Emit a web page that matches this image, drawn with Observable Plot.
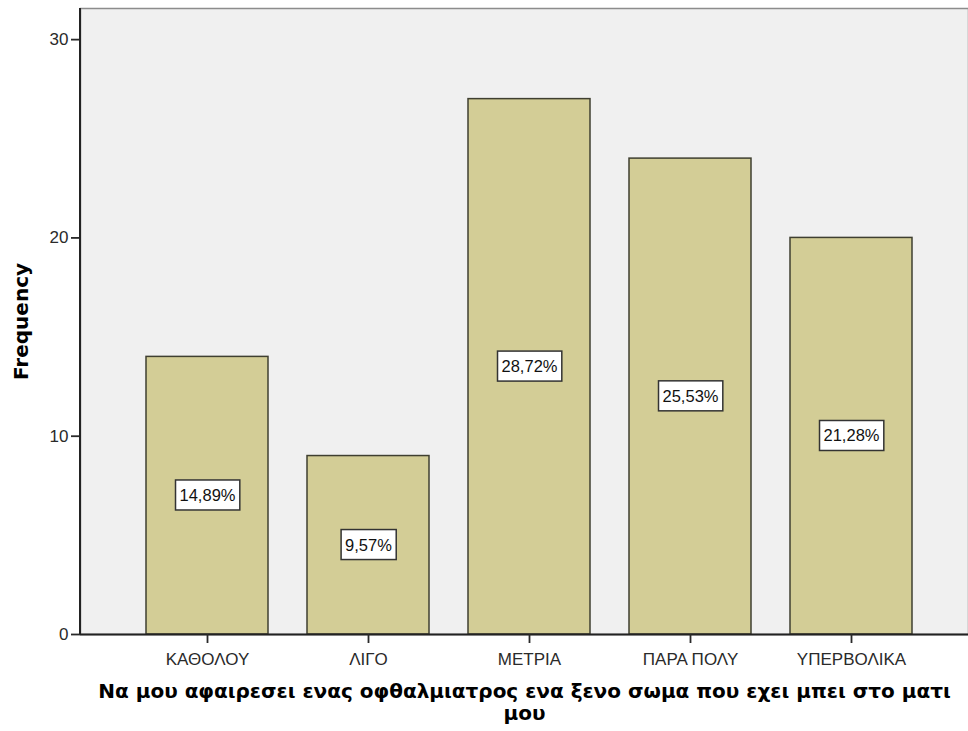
<!DOCTYPE html>
<html>
<head>
<meta charset="utf-8">
<script src="https://cdn.jsdelivr.net/npm/d3@7"></script>
<script src="https://cdn.jsdelivr.net/npm/@observablehq/plot@0.6"></script>
<style>
  html, body { margin: 0; padding: 0; background: #ffffff; }
  #chart svg { display: block; }
</style>
</head>
<body>
<div id="chart"></div>
<script>
const categories = ["ΚΑΘΟΛΟΥ", "ΛΙΓΟ", "ΜΕΤΡΙΑ", "ΠΑΡΑ ΠΟΛΥ", "ΥΠΕΡΒΟΛΙΚΑ"];
const frequencies = [14, 9, 27, 24, 20];
const percentLabels = ["14,89%", "9,57%", "28,72%", "25,53%", "21,28%"];
const yTicks = [0, 10, 20, 30];
const xTitle = "Να μου αφαιρεσει ενας οφθαλμιατρος ενα ξενο σωμα που εχει μπει στο ματι\nμου";
const yTitle = "Frequency";

const data = categories.map((c, i) => ({category: c, value: frequencies[i], label: percentLabels[i]}));

const W = 968, H = 731;
const mL = 80, mT = 8, mB = 97;

const chart = Plot.plot({
  width: W,
  height: H,
  marginLeft: mL,
  marginRight: 0,
  marginTop: mT,
  marginBottom: mB,
  style: {fontFamily: "'Liberation Sans', Arial, sans-serif", background: "#ffffff", overflow: "visible"},
  x: {domain: categories, range: [mL, 977], paddingInner: 0.245, paddingOuter: 0.396, label: null},
  y: {domain: [0, 31.57], label: null},
  marks: [
    Plot.frame({fill: "#f0f0f0", stroke: "#8c8c8c", strokeWidth: 1.5}),
    Plot.barY(data, {x: "category", y: "value", fill: "#d3cd96", stroke: "#3f3f30", strokeWidth: 1.5}),
    Plot.ruleY([0], {stroke: "#222", strokeWidth: 2}),
    Plot.axisY({ticks: yTicks, tickSize: 9, tickPadding: 3, fontSize: 17, color: "#2a2a2a", label: null, strokeWidth: 1.8}),
    Plot.axisX({tickSize: 9, tickPadding: 9, fontSize: 17, color: "#2a2a2a", label: null, strokeWidth: 1.8}),
    Plot.text(data, {
      x: "category", y: d => d.value / 2, text: "label",
      fontSize: 16.5, fill: "#111", className: "pct-labels"
    }),
    Plot.text([yTitle], {
      frameAnchor: "left", textAnchor: "middle", dx: -59, rotate: -90, text: d => d,
      fontSize: 20, fontWeight: "bold", fill: "#000",
      fontFamily: "'DejaVu Sans', sans-serif"
    }),
    Plot.text([xTitle], {
      frameAnchor: "bottom", dy: 47, lineAnchor: "top", lineHeight: 1.13, text: d => d,
      fontSize: 20, fontWeight: "bold", fill: "#000",
      fontFamily: "'DejaVu Sans', sans-serif"
    })
  ]
});

document.getElementById("chart").appendChild(chart);

// left axis line (dark), over the frame
const svg = d3.select(chart);
svg.append("line")
  .attr("x1", mL).attr("x2", mL)
  .attr("y1", mT).attr("y2", H - mB)
  .attr("stroke", "#222").attr("stroke-width", 2);

// white boxes behind percentage labels
chart.querySelectorAll("g.pct-labels text").forEach(t => {
  const b = t.getBBox();
  const r = document.createElementNS("http://www.w3.org/2000/svg", "rect");
  r.setAttribute("x", b.x - 4);
  r.setAttribute("y", b.y - 6);
  r.setAttribute("width", b.width + 8);
  r.setAttribute("height", b.height + 12);
  r.setAttribute("fill", "#ffffff");
  r.setAttribute("stroke", "#333");
  r.setAttribute("stroke-width", 1.5);
  const tr = t.getAttribute("transform");
  if (tr) r.setAttribute("transform", tr);
  t.parentNode.insertBefore(r, t);
});
</script>
</body>
</html>
